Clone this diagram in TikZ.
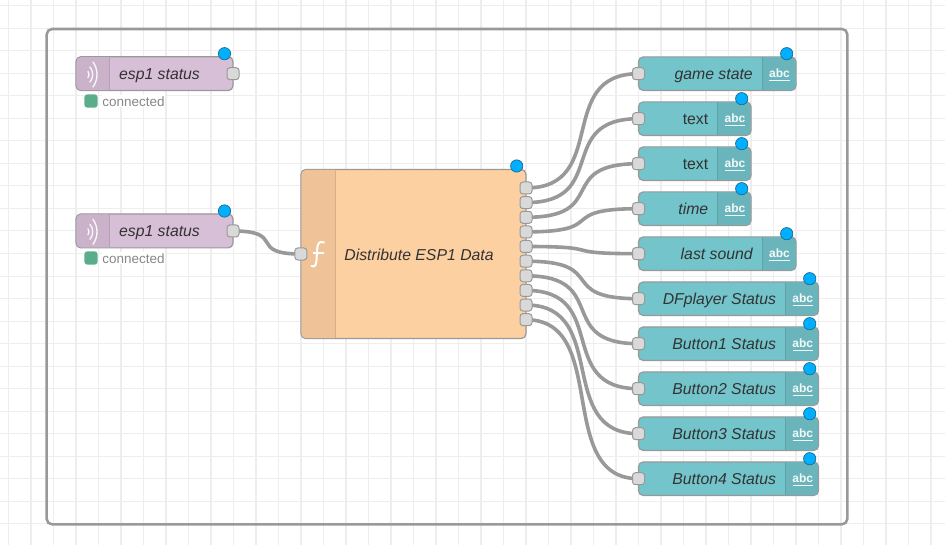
\documentclass[tikz,border=0pt]{standalone}
\usepackage{fontspec}
\setmainfont{Liberation Sans}
\definecolor{gridc}{HTML}{EEEEEE}
\definecolor{framec}{HTML}{999999}
\definecolor{wirec}{HTML}{999999}
\definecolor{portc}{HTML}{D9D9D9}
\definecolor{badgec}{HTML}{00AFFF}
\definecolor{badgeb}{HTML}{1B6E96}
\definecolor{mqttb}{HTML}{D8BFD8}
\definecolor{mqttd}{HTML}{C9B2CA}
\definecolor{funcb}{HTML}{FDD0A2}
\definecolor{funcd}{HTML}{F0C298}
\definecolor{textb}{HTML}{73C4CB}
\definecolor{textd}{HTML}{6AB5BC}
\definecolor{okc}{HTML}{5AAD8B}
\definecolor{nodetext}{HTML}{333333}
\definecolor{stat}{HTML}{888888}
\pgfdeclarelayer{gridlayer}
\pgfdeclarelayer{wirelayer}
\pgfsetlayers{gridlayer,wirelayer,main}
\tikzset{
  x=0.75pt,y=-0.75pt,
  bodybox/.style={draw=framec,line width=0.9pt,rounded corners=3.6pt,inner sep=0pt,outer sep=0pt,anchor=north west},
  portbox/.style={draw=framec,fill=portc,line width=0.75pt,rounded corners=2.2pt,minimum size=9pt,inner sep=0pt},
  badge/.style={circle,draw=badgeb,fill=badgec,line width=0.55pt,minimum size=9.2pt,inner sep=0pt},
  wire/.style={draw=wirec,line width=2.7pt},
  divider/.style={line width=0.5pt},
  label/.style={font=\fontsize{11.85pt}{14pt}\selectfont\itshape,text=nodetext,inner sep=0pt,text height=9pt,text depth=0pt},
  plainlabel/.style={font=\fontsize{11.85pt}{14pt}\selectfont,text=nodetext,inner sep=0pt,text height=9pt,text depth=0pt},
  statustext/.style={font=\fontsize{10.1pt}{12pt}\selectfont,text=stat,fill=white,inner sep=0.6pt,anchor=west,text height=8.2pt,text depth=0pt},
  statusdot/.style={draw=white,line width=0.3pt,fill=okc,rounded corners=2.4pt,minimum size=10.4pt,inner sep=0pt},
  abcicon/.style={font=\fontsize{9pt}{10pt}\selectfont\bfseries,text=white,inner sep=0pt,text opacity=0.92},
}
% #1 name, #2 x left, #3 y centre, #4 divider x, #5 x right, #6 style, #7 text, #8 badge x
\newcommand{\outnode}[8]{%
  \node[bodybox,fill=textb,minimum width=#5*0.75pt-#2*0.75pt,minimum height=25.2pt] (#1) at (#2,#3-16.8) {};
  \begin{scope}
    \clip[rounded corners=3.4pt] (#2,#3-16.3) rectangle (#5-0.5,#3+16.3);
    \fill[textd] (#4,#3-17) rectangle (#5,#3+17);
  \end{scope}
  \draw[divider,draw=textd!90!black] (#4,#3-16.3) -- (#4,#3+16.3);
  \node[#6,anchor=east] (#1t) at (#4-9,#3) {#7};
  \node[abcicon] (#1i) at (#4+17.5,#3-0.6) {abc};
  \draw[white,line width=1pt,opacity=0.92] (#4+7.3,#3+7) -- (#4+27.7,#3+7);
  \node[portbox] (#1p) at (#2,#3) {};
  \node[badge] (#1b) at (#8,#3-20) {};
}
\newcommand{\mqttnode}[2]{%
  \node[bodybox,fill=mqttb,minimum width=117.75pt,minimum height=25.4pt] (#1) at (76,#2-17) {};
  \begin{scope}
    \clip[rounded corners=3.4pt] (76.5,#2-16.5) rectangle (120,#2+16.5);
    \fill[mqttd] (76,#2-17) rectangle (109,#2+17);
  \end{scope}
  \draw[divider,draw=mqttd!90!black] (109,#2-16.5) -- (109,#2+16.5);
  \foreach \r/\cx/\a in {5/84/37,11.7/81/40,21.5/75.5/35.5}{
    \draw[white,line width=1pt,line cap=round,opacity=0.9] ({\cx+\r*cos(\a)},{#2+0.8-\r*sin(\a)}) arc[start angle=-\a,end angle=\a,radius=\r];
  }
  \node[label] (#1t) at (159.5,#2) {esp1 status};
  \node[portbox] (#1p) at (233,#2) {};
  \node[badge] (#1b) at (224.5,#2-20) {};
}
\begin{document}
\begin{tikzpicture}
\useasboundingbox (0,0) rectangle (945,545);
\begin{pgfonlayer}{gridlayer}
\fill[white] (0,0) rectangle (945,545);
\foreach \k in {0,...,41}{
  \pgfmathsetmacro{\gx}{8.5+22.5*\k}
  \ifodd\k \draw[gridc,line width=1.1pt] (\gx,0) -- (\gx,545);
  \else \draw[gridc,line width=0.75pt] (\gx,0) -- (\gx,545);\fi
}
\foreach \k in {0,...,24}{
  \pgfmathsetmacro{\gy}{6+22.5*\k}
  \ifodd\k \draw[gridc,line width=1.1pt] (0,\gy) -- (945,\gy);
  \else \draw[gridc,line width=0.75pt] (0,\gy) -- (945,\gy);\fi
}
\node[draw=framec,line width=1.9pt,rounded corners=4pt,minimum width=600.45pt,minimum height=371.5pt,inner sep=0pt,outer sep=0pt,anchor=north west] (group) at (46.7,29) {};
\end{pgfonlayer}
% mqtt nodes
\mqttnode{mqa}{73.7}
\mqttnode{mqb}{231}
\node[statusdot] (sa) at (91,101) {};
\node[statustext] (sat) at (101.3,101) {connected};
\node[statusdot] (sb) at (91,258) {};
\node[statustext] (sbt) at (101.3,258) {connected};
% function node
\node[bodybox,fill=funcb,minimum width=168.75pt,minimum height=126.8pt] (fn) at (301,169.5) {};
\begin{scope}
  \clip[rounded corners=3.4pt] (301.5,170) rectangle (345,338.2);
  \fill[funcd] (301,169) rectangle (335,339);
\end{scope}
\draw[divider,draw=funcd!90!black] (335,170) -- (335,338.2);
\draw[white,line width=1.5pt,line cap=round] (324,242.5) .. controls (319,240.5) and (317.5,244) .. (317.2,249) -- (316.5,260) .. controls (316.2,265.5) and (314.5,267.5) .. (311.5,266);
\draw[white,line width=1.3pt] (312.5,253) -- (324,253);
\node[label] (ft) at (419,254) {Distribute ESP1 Data};
\node[portbox] (fin) at (300.8,254) {};
\node[badge] (fb) at (516.7,166) {};
\foreach \i/\y in {1/188,2/202.6,3/217.3,4/231.9,5/246.5,6/261.2,7/275.8,8/290.4,9/305,10/319.7}{
  \node[portbox] (fo\i) at (526,\y) {};
}
% dashboard nodes
\outnode{game}{638.5}{73.7}{762}{796}{label}{game state}{786.7}
\outnode{txta}{638.5}{118.7}{717.5}{751}{plainlabel}{text}{741.7}
\outnode{txtb}{638.5}{163.7}{717.5}{751}{plainlabel}{text}{741.7}
\outnode{timen}{638.5}{208.7}{717.5}{751}{label}{time}{741.7}
\outnode{snd}{638.5}{253.7}{762}{796}{label}{last sound}{786.7}
\outnode{dfp}{638.5}{298.7}{785.3}{818.5}{label}{DFplayer Status}{809.7}
\outnode{btna}{638.5}{343.7}{785.3}{818.5}{label}{Button1 Status}{809.7}
\outnode{btnb}{638.5}{388.7}{785.3}{818.5}{label}{Button2 Status}{809.7}
\outnode{btnc}{638.5}{433.7}{785.3}{818.5}{label}{Button3 Status}{809.7}
\outnode{btnd}{638.5}{478.7}{785.3}{818.5}{label}{Button4 Status}{809.7}
% wires, under nodes and ports
\begin{pgfonlayer}{wirelayer}
\draw[wire] (mqbp.center) .. controls +(53.9,0) and +(-53.9,0) .. (fin.center);
\foreach \i/\t in {1/game,2/txta,3/txtb,4/timen,5/snd,6/dfp,7/btna,8/btnb,9/btnc,10/btnd}{
  \draw[wire] (fo\i.center) .. controls +(84.4,0) and +(-84.4,0) .. (\t p.center);
}
\end{pgfonlayer}
\end{tikzpicture}
\end{document}
